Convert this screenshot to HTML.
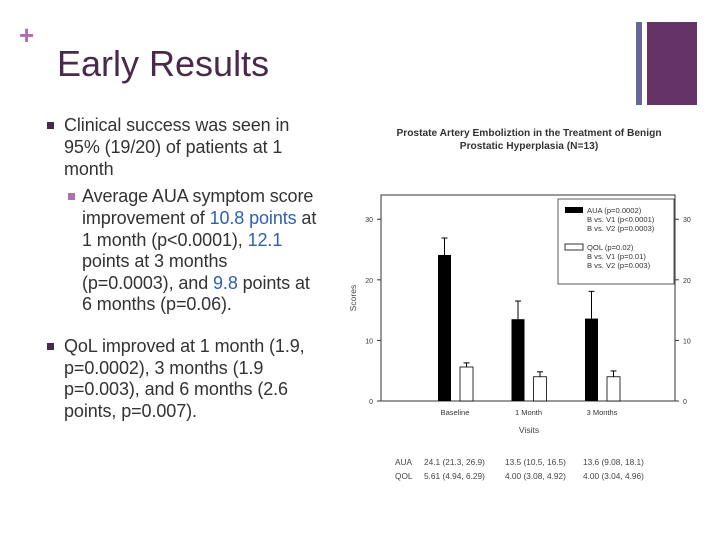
<!DOCTYPE html>
<html><head><meta charset="utf-8"><style>
body{margin:0;width:720px;height:540px;background:#fff;position:relative;overflow:hidden;font-family:"Liberation Sans",sans-serif}
.t{position:absolute;font-size:18px;color:#333;white-space:nowrap;line-height:21px;letter-spacing:-0.1px}
.b{color:#2f5fae}
.sq{position:absolute;width:7px;height:7px}
</style></head><body>
<div style="position:absolute;left:19px;top:22px;font-size:26px;color:#b06fb0;font-weight:bold;line-height:26px">+</div>
<div style="position:absolute;left:57px;top:44px;font-size:36px;color:#4a2a4a;line-height:40px">Early Results</div>
<div style="position:absolute;left:636px;top:22px;width:6px;height:83px;background:#666699"></div>
<div style="position:absolute;left:647px;top:22px;width:50px;height:83px;background:#663366"></div>

<div>
<div class="sq" style="left:47px;top:122px;background:#4a2a4a"></div>
<div class="t" style="left:64px;top:115px">Clinical success was seen in</div>
<div class="t" style="left:64px;top:137px">95% (19/20) of patients at 1</div>
<div class="t" style="left:64px;top:159px">month</div>
</div>
<div>
<div class="sq" style="left:68px;top:193px;background:#b06fb0"></div>
<div class="t" style="left:82px;top:186px">Average AUA symptom score</div>
<div class="t" style="left:82px;top:208px">improvement of <span class="b">10.8 points</span> at</div>
<div class="t" style="left:82px;top:230px">1 month (p&lt;0.0001), <span class="b">12.1</span></div>
<div class="t" style="left:82px;top:251px">points at 3 months</div>
<div class="t" style="left:82px;top:273px">(p=0.0003), and <span class="b">9.8</span> points at</div>
<div class="t" style="left:82px;top:294px">6 months (p=0.06).</div>
</div>
<div>
<div class="sq" style="left:47px;top:343px;background:#4a2a4a"></div>
<div class="t" style="left:64px;top:336px">QoL improved at 1 month (1.9,</div>
<div class="t" style="left:64px;top:358px">p=0.0002), 3 months (1.9</div>
<div class="t" style="left:64px;top:379px">p=0.003), and 6 months (2.6</div>
<div class="t" style="left:64px;top:401px">points, p=0.007).</div>
</div>

<svg id="chart" width="720" height="540" style="position:absolute;left:0;top:0" font-family="Liberation Sans, sans-serif">
<text x="529" y="136" font-size="10.2" font-weight="bold" text-anchor="middle" fill="#333">Prostate Artery Emboliztion in the Treatment of Benign</text>
<text x="529" y="149" font-size="10.2" font-weight="bold" text-anchor="middle" fill="#333">Prostatic Hyperplasia (N=13)</text>
<g id="g"></g>
</svg>
<script>
const categories=["Baseline","1 Month","3 Months"];
const auaValues=[24.1,13.5,13.6];
const auaUpper=[26.9,16.5,18.1];
const qolValues=[5.61,4.00,4.00];
const qolUpper=[6.29,4.82,4.96];
const yTicks=[0,10,20,30];
const tableAua=["24.1 (21.3, 26.9)","13.5 (10.5, 16.5)","13.6 (9.08, 18.1)"];
const tableQol=["5.61 (4.94, 6.29)","4.00 (3.08, 4.92)","4.00 (3.04, 4.96)"];

const NS="http://www.w3.org/2000/svg";
const g=document.getElementById('g');
const L=381,R=675,T=195,B=401,ymax=34;
const y=v=>B-(v/ymax)*(B-T);
const cx=i=>455+i*73.5;
function mk(tag,a,txt){const e=document.createElementNS(NS,tag);for(const k in a)e.setAttribute(k,a[k]);if(txt!=null)e.textContent=txt;g.appendChild(e);return e;}
let e=mk('rect',{x:L,y:T,width:R-L,height:B-T,fill:'none',stroke:'#333','stroke-width':1});

yTicks.forEach(t=>{
 let a=mk('line',{x1:L-4,x2:L,y1:y(t),y2:y(t),stroke:'#333'});
 
 let b=mk('line',{x1:R,x2:R+4,y1:y(t),y2:y(t),stroke:'#333'});
 
 let l=mk('text',{x:L-8,y:y(t)+3,'font-size':7,'text-anchor':'end',fill:'#333'},t);
 
 let r=mk('text',{x:R+8,y:y(t)+3,'font-size':7,fill:'#333'},t);
 
});
const tableX=[424,505,583];
categories.forEach((c,i)=>{
 const xa=cx(i)-17,xq=cx(i)+5,w=13;
 let eb=mk('line',{x1:xa+w/2,x2:xa+w/2,y1:y(auaUpper[i]),y2:y(auaValues[i]),stroke:'#000'});
 
 let ec=mk('line',{x1:xa+w/2-3,x2:xa+w/2+3,y1:y(auaUpper[i]),y2:y(auaUpper[i]),stroke:'#000'});
 
 let b=mk('rect',{x:xa,y:y(auaValues[i]),width:w,height:B-y(auaValues[i]),fill:'#000'});
 
 let qb=mk('line',{x1:xq+w/2,x2:xq+w/2,y1:y(qolUpper[i]),y2:y(qolValues[i]),stroke:'#000'});
 
 let qc=mk('line',{x1:xq+w/2-3,x2:xq+w/2+3,y1:y(qolUpper[i]),y2:y(qolUpper[i]),stroke:'#000'});
 
 let q=mk('rect',{x:xq,y:y(qolValues[i]),width:w,height:B-y(qolValues[i]),fill:'#fff',stroke:'#000','stroke-width':0.8});
 
 let xl=mk('text',{x:cx(i),y:415,'font-size':7.5,'text-anchor':'middle',fill:'#333'},c);
 
 let ta=mk('text',{x:tableX[i],y:465,'font-size':8.3,fill:'#444'},tableAua[i]);
 
 let tq=mk('text',{x:tableX[i],y:479,'font-size':8.3,fill:'#444'},tableQol[i]);
 
});
let xt=mk('text',{x:529,y:433,'font-size':8.5,'text-anchor':'middle',fill:'#444'},'Visits');

let yt=mk('text',{x:356,y:298,'font-size':8.5,'text-anchor':'middle',fill:'#444',transform:'rotate(-90 356 298)'},'Scores');

let th1=mk('text',{x:395,y:465,'font-size':8.3,fill:'#444'},'AUA');

let th2=mk('text',{x:395,y:479,'font-size':8.3,fill:'#444'},'QOL');

let lb=mk('rect',{x:558,y:199,width:116,height:85,fill:'#fff',stroke:'#333','stroke-width':0.8});

let k1=mk('rect',{x:565,y:207,width:18,height:6,fill:'#000'});

let k2=mk('rect',{x:565,y:244,width:18,height:6,fill:'#fff',stroke:'#000','stroke-width':0.8});

[["AUA (p=0.0002)",213],["B vs. V1 (p<0.0001)",222],["B vs. V2 (p=0.0003)",231],["QOL (p=0.02)",250],["B vs. V1 (p=0.01)",259],["B vs. V2 (p=0.003)",268]].forEach(([s,yy])=>{
 let t=mk('text',{x:587,y:yy,'font-size':7.6,fill:'#333'},s);
 
});
</script>
</body></html>
